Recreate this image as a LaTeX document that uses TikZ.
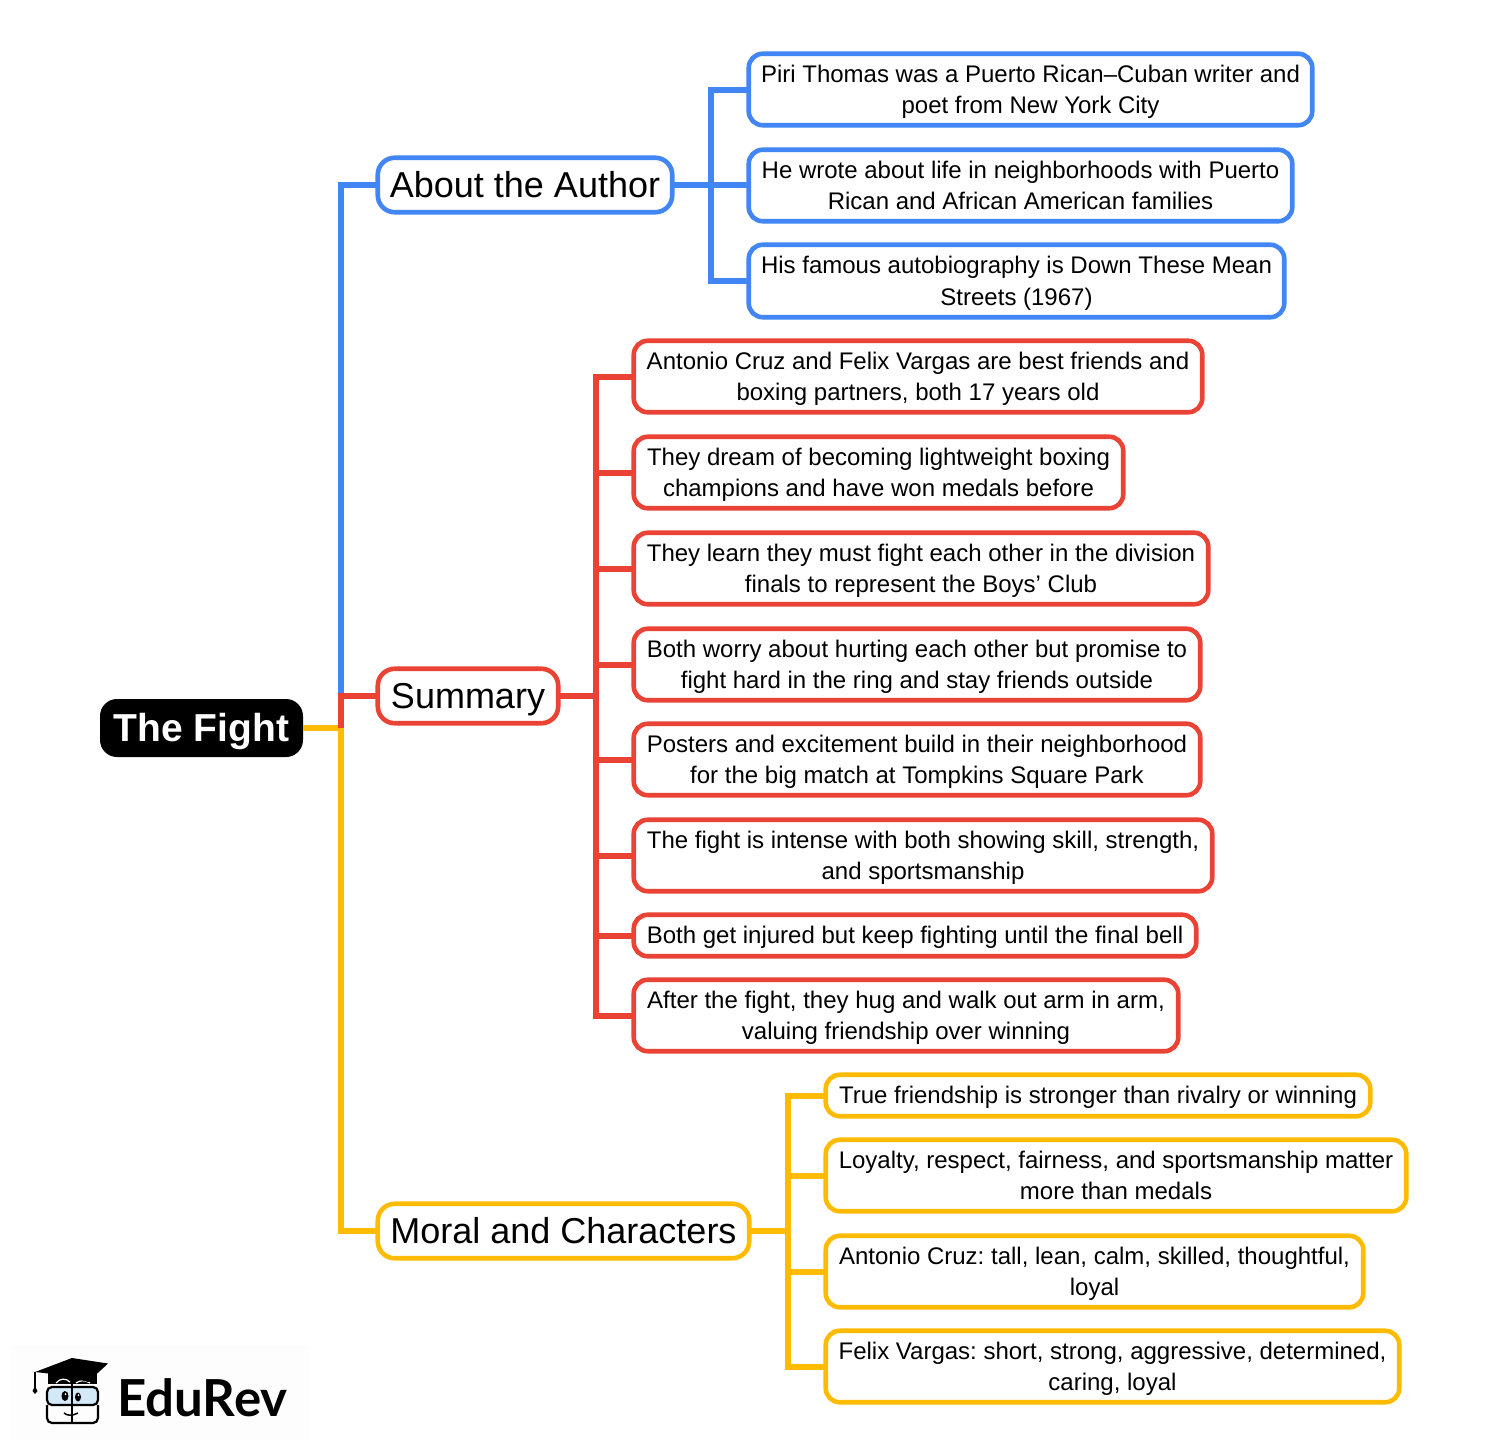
\documentclass[tikz,border=0pt]{standalone}
\usepackage{fontspec}
\setmainfont{Liberation Sans}
\newfontfamily\logofont{Lato}
\definecolor{cblue}{HTML}{4285F4}
\definecolor{cred}{HTML}{EA4335}
\definecolor{cyel}{HTML}{FFBB00}
\definecolor{lbg}{HTML}{FDFDFD}
\definecolor{glass}{HTML}{D4E9F7}
\newcommand{\st}{\rule[-7pt]{0pt}{30.5pt}}
\newcommand{\stb}{\rule[-10pt]{0pt}{44pt}}
\newcommand{\stc}{\rule[-10pt]{0pt}{46pt}}
\newcommand{\bx}[7]{%
  \pgfmathsetmacro{\bw}{#5-#3-1.5}\pgfmathsetmacro{\bh}{#6-#4-1.5}%
  \pgfmathsetmacro{\bcx}{(#3+#5)/2}\pgfmathsetmacro{\bcy}{(#4+#6)/2}%
  \node[#2,minimum width=\bw pt,minimum height=\bh pt] (#1) at (\bcx,\bcy) {#7};}
\tikzset{
  x=1pt,y=-1pt,
  base/.style={draw,line width=4.6pt,rounded corners=14pt,fill=white,align=center,inner sep=0pt,outer sep=0pt,text=black,font=\fontsize{24}{31.5}\selectfont\frenchspacing},
  big/.style={base,rounded corners=17pt,font=\fontsize{36}{40}\selectfont\frenchspacing},
  bb/.style={base,draw=cblue}, rb/.style={base,draw=cred}, yb/.style={base,draw=cyel},
  bB/.style={big,draw=cblue}, rB/.style={big,draw=cred}, yB/.style={big,draw=cyel},
  rootnode/.style={fill=black,draw=none,rounded corners=17pt,inner sep=0pt,outer sep=0pt,text=white,font=\fontsize{39}{42}\selectfont\bfseries},
  bl/.style={line width=6pt,draw=cblue},
  rl/.style={line width=6pt,draw=cred},
  yl/.style={line width=6pt,draw=cyel},
}
\begin{document}
\begin{tikzpicture}
\useasboundingbox (0,0) rectangle (1510,1456);
\fill[white] (0,0) rectangle (1510,1456);
% nodes
\node[rootnode,minimum width=203pt,minimum height=58pt] (root) at (201.5,728) {\stc The Fight};
\coordinate (hub) at (341,728);
\coordinate (busA) at (711,185);
\coordinate (busS) at (596,695.5);
\coordinate (busM) at (788,1231);
\draw[bl] (hub) |- (377,185) coordinate (authorin);
\draw[yl] (root.east) -- (hub) |- (377,1231) coordinate (moralin);
\draw[rl] (hub) |- (377,695.5) coordinate (summaryin);
\draw[bl] (busA) -- (748,185);
\draw[bl] (busA) |- (748,89.5);
\draw[bl] (busA) |- (748,281);
\draw[bl] (673,185) -- (busA);
\draw[rl] (559,695.5) -- (busS);
\foreach \yy in {376.5,472.5,568.5,664.5,759.5,855.5,935.5,1015.5}{\draw[rl] (busS) |- (633,\yy);}
\draw[yl] (750,1231) -- (busM);
\foreach \yy in {1095.5,1175.5,1271.5,1366.5}{\draw[yl] (busM) |- (825,\yy);}
\bx{author}{bB}{377}{157}{673}{213}{\stb About the Author}
\bx{summary}{rB}{377}{668}{559}{724}{\stb Summary}
\bx{moral}{yB}{377}{1203}{750}{1259}{\stb Moral and Characters}
\bx{a1}{bb}{748}{53}{1313}{126}{\st Piri Thomas was a Puerto Rican–Cuban writer and\\poet from New York City\st}
\bx{a2}{bb}{748}{149}{1293}{222}{\st He wrote about life in neighborhoods with Puerto\\Rican and African American families\st}
\bx{a3}{bb}{748}{244}{1285}{318}{\st His famous autobiography is Down These Mean\\Streets (1967)\st}
\bx{s1}{rb}{633}{340}{1203}{413}{\st Antonio Cruz and Felix Vargas are best friends and\\boxing partners, both 17 years old\st}
\bx{s2}{rb}{633}{436}{1124}{509}{\st They dream of becoming lightweight boxing\\champions and have won medals before\st}
\bx{s3}{rb}{633}{532}{1209}{605}{\st They learn they must fight each other in the division\\finals to represent the Boys’ Club\st}
\bx{s4}{rb}{633}{628}{1201}{701}{\st Both worry about hurting each other but promise to\\fight hard in the ring and stay friends outside\st}
\bx{s5}{rb}{633}{723}{1201}{796}{\st Posters and excitement build in their neighborhood\\for the big match at Tompkins Square Park\st}
\bx{s6}{rb}{633}{819}{1213}{892}{\st The fight is intense with both showing skill, strength,\\and sportsmanship\st}
\bx{s7}{rb}{633}{914}{1197}{957}{\st Both get injured but keep fighting until the final bell}
\bx{s8}{rb}{633}{979}{1179}{1052}{\st After the fight, they hug and walk out arm in arm,\\valuing friendship over winning\st}
\bx{m1}{yb}{825}{1074}{1371}{1117}{\st True friendship is stronger than rivalry or winning}
\bx{m2}{yb}{825}{1139}{1407}{1212}{\st Loyalty, respect, fairness, and sportsmanship matter\\more than medals\st}
\bx{m3}{yb}{825}{1235}{1364}{1308}{\st Antonio Cruz: tall, lean, calm, skilled, thoughtful,\\loyal\st}
\bx{m4}{yb}{825}{1330}{1400}{1403}{\st Felix Vargas: short, strong, aggressive, determined,\\caring, loyal\st}
% logo
\fill[lbg] (10,1345) rectangle (310,1440);
\draw[line width=2.2pt,black,fill=glass,rounded corners=5pt] (47,1387) rectangle (98,1405);
\draw[line width=2.2pt,black,rounded corners=5pt] (47,1405) -- (47,1423) -- (72,1423) (72,1423) -- (98,1423) -- (98,1405);
\fill[black] (48,1372) rectangle (97,1384);
\draw[white,line width=1.2pt] (56,1383) .. controls (60,1378) and (66,1378) .. (70,1382);
\draw[white,line width=1.2pt] (76,1383) .. controls (80,1380) and (85,1380) .. (90,1383);
\fill[black] (35,1372) -- (72,1358) -- (108,1363.5) -- (88,1382) -- (62,1375) -- cycle;
\draw[line width=1.3pt] (35,1372) -- (35,1388);
\fill[black] (35,1386) -- (37.5,1391) -- (35,1394) -- (32.5,1391) -- cycle;
\draw[line width=2.2pt] (72,1384) -- (72,1424);
\fill[black] (65,1396) ellipse (3.5 and 5);
\fill[black] (78,1397) ellipse (3 and 4.5);
\fill[white] (65.5,1394) circle (1); \fill[white] (78.5,1395) circle (1);
\draw[line width=1.5pt] (64,1413) .. controls (68,1416) and (72,1416) .. (78,1413);
\node[inner sep=0pt,anchor=west,font=\logofont\fontsize{51}{51}\selectfont\bfseries] (logo) at (117,1398) {EduRev};
\end{tikzpicture}
\end{document}
